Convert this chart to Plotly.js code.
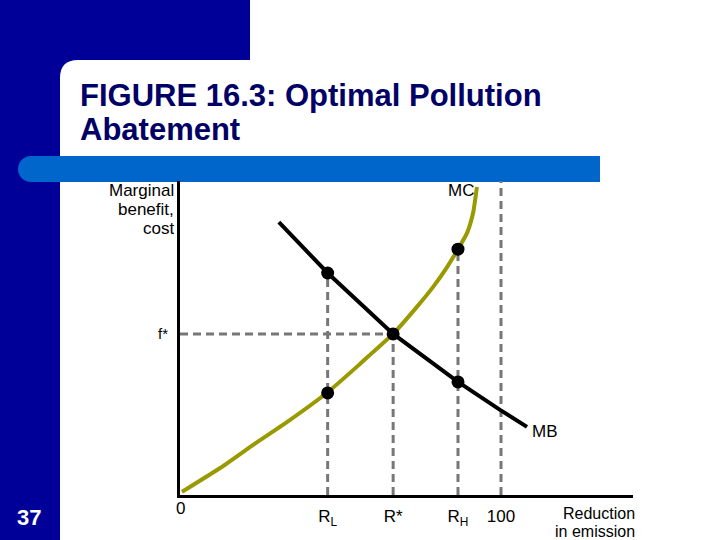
<!DOCTYPE html>
<html>
<head>
<meta charset="utf-8">
<script src="https://cdn.plot.ly/plotly-3.0.1.min.js"></script>
<style>html,body{margin:0;padding:0;background:#fff;}#chart{width:720px;height:540px;}</style>
</head>
<body>
<div id="chart"></div>
<script>
// ---- data (x: reduction in emission, 0..100 scale; y: marginal benefit / cost) ----
const RL = 46.0, Rstar = 66.4, RH = 86.6, Rmax = 100;
const fstar = 51.3;

const mcX = [0.6, 12.5, 22.7, 33.3, 45.6, 55.5, 60.1, 66.4, 73.8, 78.8, 83.2, 86.6, 89.4, 91.3, 92.5];
const mcY = [1.0, 8.6, 15.9, 23.2, 32.4, 41.2, 45.5, 51.3, 59.9, 66.2, 72.6, 78.3, 83.4, 89.8, 98.1];

const mbX = [30.8, 46.0, 66.4, 86.6, 99.7, 108.1];
const mbY = [86.9, 70.7, 51.3, 36.0, 27.1, 21.7];

const dotX = [RL, RL, Rstar, RH, RH];
const dotY = [70.7, 32.5, 51.3, 78.3, 36.0];

const xTickVals = [RL, Rstar, RH, Rmax];
const xTickText = ['R<sub>L</sub>', 'R*', 'R<sub>H</sub>', '100'];
const yTickVals = [fstar];
const yTickText = ['f*'];

const titleLines = ['FIGURE 16.3: Optimal Pollution', 'Abatement'];
const yTitleLines = ['Marginal', 'benefit,', 'cost'];
const xTitleLines = ['Reduction', 'in emission'];
const curveLabels = ['MC', 'MB'];
const slideNumber = '37';

// ---- layout geometry helpers ----
const W = 720, H = 540, L = 180, R = 633, T = 181, B = 495;
const px = v => (v - L) / (R - L);
const py = v => (B - v) / (B - T);

const navy = '#000099';
const grey = '#777777';
const dash = {color: grey, width: 3, dash: '8px,5px'};

const traces = [
  {x: [RL, RL], y: [0, dotY[0]], mode: 'lines', line: dash, hoverinfo: 'skip'},
  {x: [Rstar, Rstar], y: [0, fstar], mode: 'lines', line: dash, hoverinfo: 'skip'},
  {x: [RH, RH], y: [0, dotY[3]], mode: 'lines', line: dash, hoverinfo: 'skip'},
  {x: [Rmax, Rmax], y: [0, 100], mode: 'lines', line: dash, hoverinfo: 'skip'},
  {x: [0, Rstar], y: [fstar, fstar], mode: 'lines', line: dash, hoverinfo: 'skip'},
  {x: mcX, y: mcY, mode: 'lines', line: {color: '#999900', width: 4, shape: 'spline', smoothing: 0.5}},
  {x: mbX, y: mbY, mode: 'lines', line: {color: '#000000', width: 4}},
  {x: dotX, y: dotY, mode: 'markers', marker: {color: '#000000', size: 13}}
];

const navyPath = 'M' + px(0) + ',' + py(0) + ' L' + px(250) + ',' + py(0) + ' L' + px(250) + ',' + py(60) +
  ' L' + px(78) + ',' + py(60) + ' Q' + px(60) + ',' + py(60) + ' ' + px(60) + ',' + py(78) +
  ' L' + px(60) + ',' + py(540) + ' L' + px(0) + ',' + py(540) + ' Z';

const shapes = [
  {type: 'path', xref: 'paper', yref: 'paper', path: navyPath, fillcolor: navy, line: {width: 0}, layer: 'below'},
  {type: 'circle', xref: 'paper', yref: 'paper', x0: px(18), x1: px(44), y0: py(182), y1: py(156), fillcolor: '#0066cc', line: {width: 0}, layer: 'below'},
  {type: 'rect', xref: 'paper', yref: 'paper', x0: px(31), x1: px(600), y0: py(182), y1: py(156), fillcolor: '#0066cc', line: {width: 0}, layer: 'below'}
];

const font = 'Liberation Sans, Arial, sans-serif';
const txt = (text, x, y, xa, size, color, h) => {
  const a = {xref: 'paper', yref: 'paper', x: px(x), y: py(y), xanchor: xa, yanchor: 'middle', valign: 'middle',
    showarrow: false, text: text, font: {family: font, size: size, color: color || '#000'}};
  if (h) a.height = h;
  return a;
};

const annotations = [
  txt('<b>' + titleLines[0] + '</b>', 78, 95, 'left', 31, '#000066'),
  txt('<b>' + titleLines[1] + '</b>', 78, 129, 'left', 31, '#000066'),
  txt(yTitleLines[0], 176, 190, 'right', 17, null, 18),
  txt(yTitleLines[1], 176, 209, 'right', 17, null, 18),
  txt(yTitleLines[2], 176, 228, 'right', 17, null, 18),
  txt(xTitleLines[0], 637, 513, 'right', 16, null, 18),
  txt(xTitleLines[1], 637, 531, 'right', 16, null, 18),
  txt('0', 180, 508, 'center', 17),
  txt(curveLabels[0], 476, 190, 'right', 17),
  txt(curveLabels[1], 530, 431, 'left', 17),
  txt('<b>' + slideNumber + '</b>', 29, 517, 'center', 22, '#ffffff')
];

const layout = {
  width: W, height: H,
  margin: {l: L, r: W - R, t: T, b: H - B, pad: 0},
  paper_bgcolor: '#ffffff', plot_bgcolor: 'rgba(0,0,0,0)',
  showlegend: false,
  xaxis: {range: [0, (R - L) / 3.21], showgrid: false, zeroline: false, showline: true, linecolor: '#000', linewidth: 3,
          tickvals: xTickVals, ticktext: xTickText, ticks: '', ticklabelstandoff: 4,
          tickfont: {family: font, size: 17, color: '#000'}, fixedrange: true},
  yaxis: {range: [0, 100], showgrid: false, zeroline: false, showline: true, linecolor: '#000', linewidth: 3,
          tickvals: yTickVals, ticktext: yTickText, ticks: '', ticklabelstandoff: 6,
          tickfont: {family: font, size: 15, color: '#000'}, fixedrange: true},
  shapes: shapes,
  annotations: annotations
};

Plotly.newPlot('chart', traces, layout, {displayModeBar: false, staticPlot: true});
</script>
</body>
</html>
